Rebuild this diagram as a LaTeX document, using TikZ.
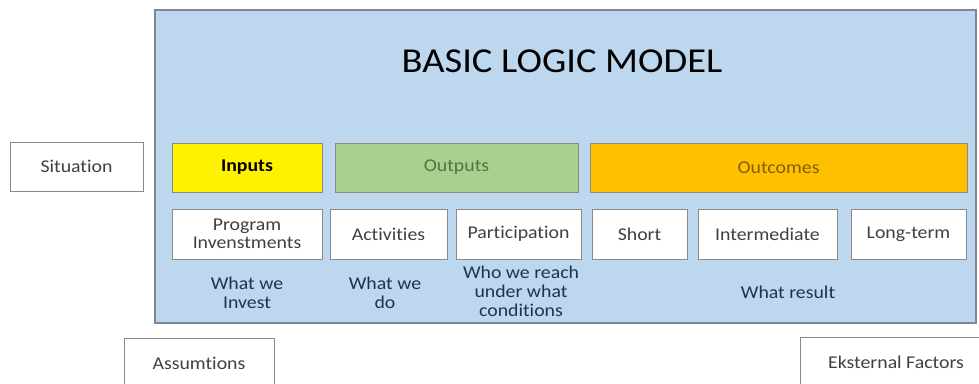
\documentclass[tikz,border=0pt]{standalone}
\usepackage{fontspec}
\setmainfont{Carlito}[FakeStretch=1.1, Ligatures=NoCommon]
\definecolor{panelblue}{HTML}{BDD7EE}
\definecolor{panelline}{HTML}{7A8896}
\definecolor{boxline}{HTML}{8A8A8A}
\definecolor{labeltext}{HTML}{404040}
\definecolor{captiontext}{HTML}{1F3350}
\definecolor{outgreen}{HTML}{A9D18E}
\definecolor{outgreentext}{HTML}{55704A}
\definecolor{outorange}{HTML}{FFC000}
\definecolor{outorangetext}{HTML}{7F6000}
\tikzset{
  lbox/.style={draw=boxline, line width=0.8pt, fill=white, inner sep=0pt,
    minimum height=49pt, align=center, text=labeltext,
    font=\fontsize{18}{18}\selectfont},
  head/.style={lbox, minimum height=49pt},
  capt/.style={inner sep=0pt, align=center, text=captiontext,
    font=\fontsize{18}{19}\selectfont}
}
\begin{document}
\begin{tikzpicture}[x=1pt,y=-1pt]
\useasboundingbox (0,0) rectangle (979,383);

% panel
\draw[fill=panelblue, draw=panelline, line width=1.2pt] (155,10) rectangle (976,323);
\node[text=black, font=\fontsize{35}{36}\selectfont] (title) at (562,61) {BASIC LOGIC MODEL};

% header row
\node[head, minimum width=150pt, fill=yellow, text=black, font=\bfseries\fontsize{18}{18}\selectfont] (inputs) at (247,167.5) {Inputs};
\node[head, minimum width=243pt, fill=outgreen, text=outgreentext] (outputs) at (456.5,167.5) {Outputs};
\node[head, minimum width=377pt, fill=outorange, text=outorangetext] (outcomes) at (778.5,167.5) {Outcomes};

% second row
\node[lbox, minimum width=150pt, minimum height=50pt] (invest) at (247,234) {Program\\Invenstments};
\node[lbox, minimum width=117pt, minimum height=50pt] (activ) at (388.5,234) {Activities};
\node[lbox, minimum width=125pt, minimum height=50pt] (partic) at (518.5,234) {Participation};
\node[lbox, minimum width=95pt, minimum height=50pt] (short) at (639.5,234) {Short};
\node[lbox, minimum width=139pt, minimum height=50pt] (inter) at (767.5,234) {Intermediate};
\node[lbox, minimum width=115pt, minimum height=50pt] (longt) at (908.5,234) {Long-term};

% captions
\node[capt] (whatinvest) at (247,292.5) {What we\\Invest};
\node[capt] (whatdo) at (385,292.5) {What we\\do};
\node[capt] (whoreach) at (521,291) {Who we reach\\under what\\conditions};
\node[capt] (whatresult) at (788,292) {What result};

% outside boxes
\node[lbox, minimum width=133pt] (situation) at (76.5,166.5) {Situation};
\node[lbox, minimum width=150pt, minimum height=50pt] (assum) at (199,363) {Assumtions};
\node[lbox, minimum width=192pt, minimum height=50pt] (extern) at (896,362) {Eksternal Factors};

\end{tikzpicture}
\end{document}
